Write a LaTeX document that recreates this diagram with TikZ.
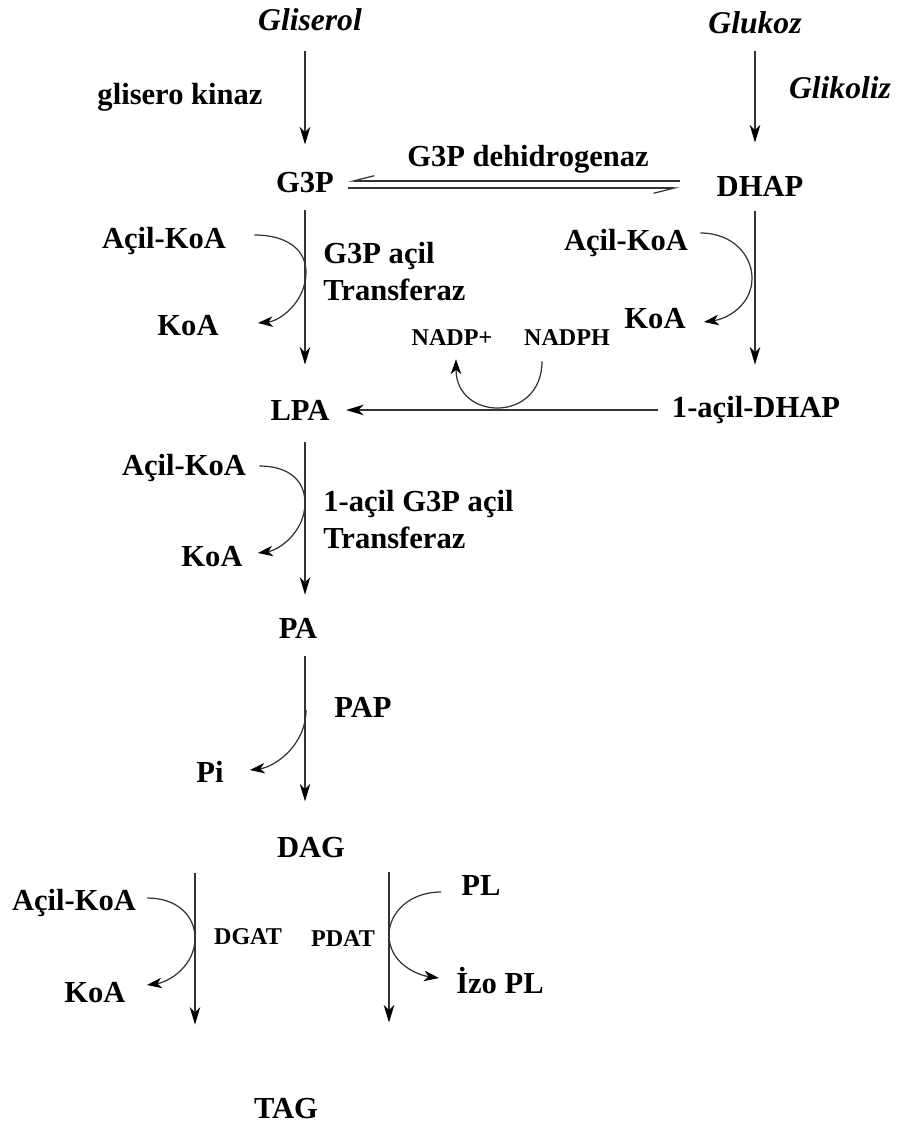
\documentclass[tikz,border=0pt]{standalone}
\usepackage{fontspec}
\setmainfont{Liberation Serif}
\usetikzlibrary{arrows.meta, calc}

\begin{document}
\begin{tikzpicture}[x=0.02cm, y=-0.02cm,
    lbl/.style={font=\fontsize{17.4}{21}\selectfont\bfseries, inner sep=0pt, text height=11.5pt, text depth=0pt},
    ilbl/.style={font=\fontsize{18}{21}\selectfont\bfseries\itshape, inner sep=0pt, text height=11.9pt, text depth=0pt},
    slbl/.style={font=\fontsize{13.7}{16}\selectfont\bfseries, inner sep=0pt, text height=9pt, text depth=0pt},
    tr/.style={font=\fontsize{17.4}{21.3}\selectfont\bfseries, inner sep=0pt, align=left},
    flow/.style={draw=black!80, line width=0.7pt, -{Stealth[length=10pt,width=6pt,inset=3pt,color=black]}},
    side/.style={draw=black!80, line width=0.7pt, -{Stealth[length=8.5pt,width=6pt,inset=2.5pt,color=black]}},
    harp/.style={draw=black!80, line width=0.7pt, -{Straight Barb[harpoon,swap,length=12pt,width=6pt]}}]
    \useasboundingbox (0,0) rectangle (898,1124);
    \node[ilbl] (gli) at (310,20) {Gliserol};
    \node[ilbl] (glu) at (755,23) {Glukoz};
    \node[ilbl] (glik) at (840,88) {Glikoliz};
    \node[lbl] (kinaz) at (180,94) {glisero kinaz};
    \node[lbl] (g3p) at (305,182) {G3P};
    \node[lbl] (deh) at (528,156) {G3P dehidrogenaz};
    \node[lbl] (dhap) at (760,186) {DHAP};
    \node[lbl] (ak1) at (164,238) {Açil-KoA};
    \node[lbl] (koa1) at (188,325) {KoA};
    \node[tr, anchor=north west] (tr1) at (323,242) {G3P açil\\Transferaz};
    \node[lbl] (ak2) at (626,240) {Açil-KoA};
    \node[lbl] (koa2) at (655,318) {KoA};
    \node[slbl] (nadp) at (452,338) {NADP+};
    \node[slbl] (nadph) at (567,338) {NADPH};
    \node[lbl] (lpa) at (300,410) {LPA};
    \node[lbl] (acdhap) at (756,407) {1-açil-DHAP};
    \node[lbl] (ak3) at (184,465) {Açil-KoA};
    \node[lbl] (koa3) at (212,556) {KoA};
    \node[tr, anchor=north west] (tr2) at (323,490) {1-açil G3P açil\\Transferaz};
    \node[lbl] (pa) at (298,628) {PA};
    \node[lbl] (pap) at (363,707) {PAP};
    \node[lbl] (pi) at (210,772) {Pi};
    \node[lbl] (dag) at (311,847) {DAG};
    \node[lbl] (ak4) at (74,900) {Açil-KoA};
    \node[lbl] (koa4) at (95,992) {KoA};
    \node[slbl] (dgat) at (248,937) {DGAT};
    \node[slbl] (pdat) at (343,939) {PDAT};
    \node[lbl] (pl) at (481,885) {PL};
    \node[lbl] (izo) at (500,983) {İzo PL};
    \node[lbl] (tag) at (286,1108) {TAG};

    \draw[flow, shorten <=11.4pt, shorten >=15.4pt] (g3p.north |- gli.south) -- (g3p.north);
    \draw[flow, shorten <=9.7pt, shorten >=18.8pt] (glu.south) -- (glu.south |- dhap.north);
    \draw[harp, shorten <=20.9pt, shorten >=8pt] ($(dhap.west |- g3p.east)+(0,-1)$) -- ($(g3p.east)+(0,-1)$);
    \draw[harp, shorten <=8pt, shorten >=20.9pt] ($(g3p.east)+(0,6)$) -- ($(dhap.west |- g3p.east)+(0,6)$);
    \draw[flow, shorten <=10.2pt, shorten >=19.9pt] (g3p.south) -- (g3p.south |- lpa.north);
    \draw[flow, shorten <=8pt, shorten >=18.2pt] (glu.south |- dhap.south) -- (glu.south |- acdhap.north);
    \draw[flow, shorten <=8pt, shorten >=9.3pt] (lpa.east -| acdhap.west) -- (lpa.east);
    \draw[flow, shorten <=12.5pt, shorten >=13pt] (g3p.south |- lpa.south) -- (g3p.south |- pa.north);
    \draw[flow, shorten <=9.7pt, shorten >=20pt] (g3p.south |- pa.south) -- (g3p.south |- dag.north);
    \draw[flow, shorten <=9.1pt, shorten >=41.5pt] ($(dag.south)+(-116,0)$) -- ($(dag.south |- tag.north)+(-116,0)$);
    \draw[flow, shorten <=8pt, shorten >=42.7pt] ($(dag.south)+(78,0)$) -- ($(dag.south |- tag.north)+(78,0)$);

    \draw[side] ($(ak1.east)+(28,-3)$) .. controls +(33,0) and +(0,-22) .. (306,272) .. controls +(0,30) and +(22,-2) .. ($(koa1.east)+(39,-2)$);
    \draw[side] ($(ak2.east)+(12,-7)$) .. controls +(33,0) and +(0,-22) .. (752,278) .. controls +(0,28) and +(22,-3) .. ($(koa2.east)+(18,4)$);
    \draw[side] ($(nadph.south)+(-25,15)$) .. controls +(0,62) and +(0,62) .. ($(nadp.south)+(4,13)$);
    \draw[side] ($(ak3.east)+(13,1)$) .. controls +(30,0) and +(0,-22) .. (305,503) .. controls +(0,28) and +(22,-3) .. ($(koa3.east)+(15,-3)$);
    \draw[side] (306,710) .. controls +(0,35) and +(25,-3) .. ($(pi.east)+(26,-2)$);
    \draw[side] ($(ak4.east)+(11,-2)$) .. controls +(30,0) and +(0,-22) .. (195,938) .. controls +(0,28) and +(22,-3) .. ($(koa4.east)+(21,-7)$);
    \draw[side] ($(pl.west)+(-20,7)$) .. controls +(-32,0) and +(0,-22) .. (389,935) .. controls +(0,28) and +(-22,-3) .. ($(izo.west)+(-17,-5)$);
\end{tikzpicture}
\end{document}
